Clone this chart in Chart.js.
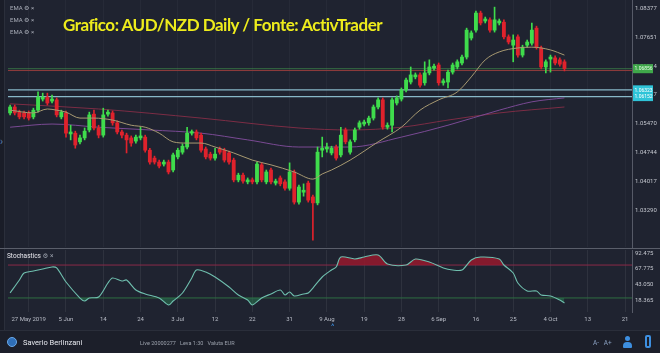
<!DOCTYPE html>
<html><head><meta charset="utf-8">
<script src="https://cdn.jsdelivr.net/npm/chart.js@4.4.1/dist/chart.umd.min.js"></script>
<style>
html,body{margin:0;padding:0;background:#1f2330;width:660px;height:353px;overflow:hidden;font-family:Roboto,"DejaVu Sans",sans-serif;}
#wrap{position:relative;width:660px;height:353px;}
#p1{position:absolute;left:0;top:0;width:660px;height:248px;}
#p2{position:absolute;left:0;top:248px;width:660px;height:82px;}
#gut{position:absolute;left:0;top:0;width:4px;height:330px;background:#1a1d28;border-right:1px solid #2b2f3b;}
#sep{position:absolute;left:0;top:248px;width:660px;height:1px;background:#5a5e6a;}
#title{position:absolute;left:63px;top:14px;color:#eeec1c;font-family:"Lato",sans-serif;font-weight:bold;font-size:17px;white-space:nowrap;letter-spacing:-0.5px;}
.ema{position:absolute;left:10px;font-size:6px;color:#a9adb8;white-space:nowrap;}
#stl{position:absolute;left:7px;top:252px;font-size:6.5px;color:#e8e8ee;white-space:nowrap;}
#foot{position:absolute;left:0;top:330px;width:660px;height:23px;background:#1c1f2a;border-top:1px solid #2a2e3a;}
#name{position:absolute;left:23px;top:7px;font-size:7.5px;color:#e6e8ee;}
#acct{position:absolute;left:140px;top:9px;font-size:5.5px;color:#9aa0ab;white-space:nowrap;}
#av{position:absolute;left:7px;top:6px;width:10px;height:10px;border-radius:50%;background:#2f6fb8;border:1px solid #6aa8e8;box-sizing:border-box;}
#fa{position:absolute;left:593px;top:8px;font-size:6.5px;color:#8aa0c0;white-space:nowrap;}
#pi{position:absolute;left:623px;top:5px;width:9px;height:12px;}
#pi .h{position:absolute;left:2px;top:0;width:5px;height:5px;border-radius:50%;background:#3d8fe0;}
#pi .b{position:absolute;left:0;top:6px;width:9px;height:6px;border-radius:4px 4px 1px 1px;background:#3d8fe0;}
#door{position:absolute;left:645px;top:4px;width:6px;height:13px;border:2px solid #3d8fe0;border-radius:2px;box-sizing:border-box;}
#car{position:absolute;left:331px;top:322px;font-size:8px;color:#3d8fe0;}
#arr{position:absolute;left:0px;top:136px;font-size:10px;color:#5a7fb8;}
</style></head>
<body><div id="wrap">
<div id="p1"><canvas id="c1"></canvas></div>
<div id="p2"><canvas id="c2"></canvas></div>
<div id="gut"></div>
<div id="sep"></div>
<div id="title">Grafico: AUD/NZD Daily / Fonte: ActivTrader</div>
<div class="ema" style="top:4px">EMA ⚙ ×</div>
<div class="ema" style="top:16px">EMA ⚙ ×</div>
<div class="ema" style="top:28px">EMA ⚙ ×</div>
<div id="stl">Stochastics <span style="color:#9aa0ab">⚙ ×</span></div>
<div id="arr">›</div>
<div id="car">^</div>
<div id="foot">
 <div id="av"></div>
 <div id="name">Saverio Berlinzani</div>
 <div id="acct">Live 20000277&nbsp;&nbsp;&nbsp;Leva 1:30&nbsp;&nbsp;&nbsp;Valuta EUR</div>
 <div id="fa">A-&nbsp;&nbsp;&nbsp;A+</div>
 <div id="pi"><div class="h"></div><div class="b"></div></div>
 <div id="door"></div>
</div>
</div>
<script>
// ---- data (daily candles, bar index 0 = 21 May 2019) ----
const xLabels = ["27 May 2019","5 Jun","14","24","3 Jul","12","22","31","9 Aug","19","28","6 Sep","16","25","4 Oct","13","21"];
const xLabelIdx = [4,12,20,28,36,44,52,60,68,76,84,92,100,108,116,124,132];
const priceTicks = [1.03290,1.04017,1.04744,1.05470,1.06197,1.06924,1.07651,1.08377];
const stochTicks = [18.365,43.050,67.775,92.475];

const opens = [1.0574,1.0589,1.0576,1.0574,1.0574,1.0564,1.0581,1.0609,1.0614,1.0604,
1.0607,1.0564,1.0574,1.0521,1.0523,1.0501,1.0511,1.0531,1.0571,1.0536,
1.0518,1.0571,1.0574,1.0549,1.0526,1.0518,1.0511,1.0503,1.0511,1.0513,
1.0480,1.0460,1.0450,1.0445,1.0450,1.0430,1.0463,1.0475,1.0488,1.0523,
1.0526,1.0518,1.0483,1.0470,1.0460,1.0483,1.0480,1.0473,1.0455,1.0405,
1.0417,1.0400,1.0405,1.0400,1.0443,1.0400,1.0430,1.0397,1.0410,1.0400,
1.0384,1.0425,1.0349,1.0374,1.0397,1.0362,1.0347,1.0480,1.0483,1.0473,
1.0488,1.0468,1.0531,1.0475,1.0506,1.0538,1.0546,1.0549,1.0561,1.0589,
1.0607,1.0538,1.0543,1.0599,1.0609,1.0632,1.0652,1.0665,1.0670,1.0650,
1.0675,1.0687,1.0695,1.0650,1.0652,1.0677,1.0690,1.0700,1.0715,1.0763,
1.0783,1.0826,1.0806,1.0809,1.0783,1.0801,1.0803,1.0766,1.0745,1.0766,
1.0720,1.0745,1.0750,1.0788,1.0738,1.0690,1.0710,1.0713,1.0708,1.0703];
const highs = [1.0594,1.0594,1.0581,1.0579,1.0579,1.0586,1.0627,1.0624,1.0624,1.0619,
1.0612,1.0581,1.0579,1.0543,1.0528,1.0518,1.0536,1.0576,1.0581,1.0543,
1.0586,1.0581,1.0579,1.0554,1.0531,1.0523,1.0516,1.0518,1.0538,1.0518,
1.0485,1.0465,1.0455,1.0455,1.0455,1.0473,1.0485,1.0496,1.0538,1.0531,
1.0531,1.0523,1.0488,1.0475,1.0485,1.0488,1.0485,1.0478,1.0460,1.0422,
1.0422,1.0410,1.0410,1.0450,1.0448,1.0430,1.0435,1.0407,1.0415,1.0405,
1.0448,1.0430,1.0392,1.0395,1.0402,1.0367,1.0488,1.0513,1.0498,1.0490,
1.0493,1.0538,1.0536,1.0506,1.0536,1.0554,1.0556,1.0566,1.0594,1.0612,
1.0612,1.0549,1.0612,1.0617,1.0637,1.0662,1.0690,1.0675,1.0675,1.0703,
1.0708,1.0697,1.0700,1.0660,1.0682,1.0700,1.0708,1.0720,1.0788,1.0781,
1.0831,1.0831,1.0816,1.0814,1.0841,1.0811,1.0809,1.0771,1.0771,1.0771,
1.0745,1.0758,1.0801,1.0793,1.0743,1.0708,1.0720,1.0718,1.0713,1.0708];
const lows = [1.0569,1.0569,1.0559,1.0559,1.0556,1.0559,1.0576,1.0604,1.0594,1.0599,
1.0564,1.0559,1.0513,1.0506,1.0485,1.0496,1.0506,1.0526,1.0531,1.0511,
1.0513,1.0566,1.0543,1.0521,1.0511,1.0473,1.0490,1.0498,1.0506,1.0475,
1.0445,1.0445,1.0435,1.0440,1.0420,1.0425,1.0458,1.0470,1.0483,1.0518,
1.0506,1.0475,1.0458,1.0455,1.0455,1.0470,1.0450,1.0445,1.0400,1.0400,
1.0397,1.0395,1.0395,1.0395,1.0400,1.0395,1.0395,1.0392,1.0390,1.0379,
1.0379,1.0344,1.0344,1.0364,1.0349,1.0253,1.0342,1.0463,1.0475,1.0468,
1.0455,1.0463,1.0496,1.0470,1.0501,1.0533,1.0541,1.0543,1.0556,1.0584,
1.0533,1.0533,1.0526,1.0594,1.0604,1.0627,1.0647,1.0660,1.0639,1.0644,
1.0670,1.0682,1.0644,1.0644,1.0637,1.0672,1.0685,1.0695,1.0710,1.0758,
1.0778,1.0796,1.0801,1.0778,1.0778,1.0796,1.0761,1.0748,1.0703,1.0715,
1.0715,1.0740,1.0745,1.0735,1.0685,1.0675,1.0677,1.0695,1.0692,1.0680];
const closes = [1.0589,1.0574,1.0564,1.0564,1.0561,1.0581,1.0614,1.0614,1.0599,1.0609,
1.0569,1.0576,1.0523,1.0526,1.0493,1.0511,1.0528,1.0569,1.0536,1.0518,
1.0569,1.0576,1.0549,1.0526,1.0518,1.0506,1.0498,1.0513,1.0516,1.0480,
1.0450,1.0450,1.0440,1.0450,1.0425,1.0468,1.0480,1.0490,1.0523,1.0526,
1.0511,1.0480,1.0463,1.0460,1.0470,1.0475,1.0455,1.0450,1.0405,1.0417,
1.0402,1.0405,1.0400,1.0445,1.0405,1.0425,1.0400,1.0402,1.0395,1.0384,
1.0425,1.0349,1.0387,1.0379,1.0354,1.0347,1.0475,1.0485,1.0488,1.0485,
1.0460,1.0518,1.0501,1.0501,1.0531,1.0549,1.0551,1.0561,1.0589,1.0607,
1.0538,1.0543,1.0607,1.0612,1.0632,1.0657,1.0670,1.0670,1.0644,1.0675,
1.0690,1.0692,1.0650,1.0655,1.0677,1.0695,1.0703,1.0715,1.0783,1.0776,
1.0826,1.0801,1.0811,1.0783,1.0809,1.0806,1.0766,1.0753,1.0758,1.0720,
1.0740,1.0753,1.0783,1.0740,1.0690,1.0703,1.0715,1.0700,1.0697,1.0686];

// moving averages (bar index, value)
const emaFastIdx = [0,5,8,10,12,15,18,22,26,29,32,35,38,41,44,48,52,56,61,65,67,69,73,79,84,88,92,96,99,102,105,109,112,116,119];
const emaFastVal = [1.0581,1.0574,1.0584,1.0581,1.0576,1.0561,1.0561,1.0556,1.0543,1.0538,1.0523,1.0501,1.0498,1.0498,1.0488,1.0473,1.0455,1.0443,1.0425,1.0407,1.0420,1.0430,1.0455,1.0501,1.0538,1.0581,1.0607,1.0627,1.0665,1.0708,1.0728,1.0738,1.0740,1.0733,1.0720];
const emaMidIdx = [0,9,19,30,41,51,62,73,84,94,105,112,119];
const emaMidVal = [1.0538,1.0546,1.0538,1.0531,1.0523,1.0506,1.0488,1.0488,1.0513,1.0543,1.0581,1.0602,1.0612];
const emaSlowIdx = [0,19,41,62,73,84,94,105,119];
const emaSlowVal = [1.0597,1.0584,1.0561,1.0536,1.0531,1.0538,1.0556,1.0574,1.0589];

// horizontal levels
const resistanceLevel = 1.06810;
const lastPrice = 1.06856;
const supportLevels = [1.06323, 1.06152];

// stochastic (bar index, value)
const stochIdx = [0,2,3,5,7,9,10,12,15,16,17,19,21,22,24,25,27,29,32,34,35,37,39,40,42,44,47,49,51,52,54,56,58,59,60,61,63,64,65,67,69,70,71,74,76,79,81,85,87,90,93,95,97,99,101,105,106,108,109,111,113,114,116,118,119];
const stochVal = [30,50.4,61.5,64.6,67.8,71,69.4,47.2,21.9,17.2,21.9,23.5,45.6,53.5,48.8,50.4,34.6,28.3,21.9,10.9,17.2,29.8,53.5,66.2,63,55.1,39.3,26.7,18.8,10.9,21.9,28.3,34.6,26.7,31.4,25.1,28.3,29.8,37.7,55.1,66.2,70.9,86.7,83.6,86.7,89.9,75.7,74.1,83.6,78.8,69.4,66.2,66.2,82,86.7,83.6,74.1,61.5,45.6,33,33,26.7,25.1,18.8,14.1];
const stochUpper = 74;
const stochLower = 22;

// ---- drawing ----
const X_MIN = -0.45, X_MAX = 133.5;
const UP = '#3fdc4c', DOWN = '#e0222c', DOJI = '#cfe8cf';
const candleColors = opens.map((o,i)=> Math.abs(closes[i]-o) < 0.00025 ? DOJI : (closes[i] >= o ? UP : DOWN));
const wickColors = opens.map((o,i)=> closes[i] >= o ? UP : DOWN);
const tickFont = {family:'Roboto', size:6};

const noPad = s => { s.paddingTop = 0; s.paddingBottom = 0; s.paddingLeft = 0; s.paddingRight = 0; };

const tagPlugin = {
  id:'tags',
  afterDraw(chart, args, opts){
    const ctx = chart.ctx, y = chart.scales.y, a = chart.chartArea;
    (opts.items||[]).forEach(t=>{
      const py = y.getPixelForValue(t.value);
      ctx.save();
      ctx.fillStyle = t.bg;
      ctx.fillRect(a.right+1, py-4.5, 20, 9);
      ctx.fillStyle = t.fg;
      ctx.font = '5px Roboto';
      ctx.textBaseline = 'middle';
      ctx.fillText(t.value.toFixed(5), a.right+2.5, py+0.5);
      ctx.restore();
    });
  }
};

const hline = (v, color, w, order) => ({type:'line', data:[{x:X_MIN,y:v},{x:X_MAX,y:v}], borderColor:color, borderWidth:w, pointRadius:0, order});
const lineDs = (idx, val, color, order) => ({type:'line', data: idx.map((x,k)=>({x, y: val[k]})), borderColor:color, borderWidth:1, pointRadius:0, cubicInterpolationMode:'monotone', order});

new Chart(document.getElementById('c1'), {
  type:'bar',
  data:{datasets:[
    hline(resistanceLevel, 'rgba(150,60,60,0.95)', 1, 20),
    hline(lastPrice, 'rgba(70,160,80,0.6)', 1, 19),
    hline(supportLevels[0], '#88b8c8', 1.2, 18),
    hline(supportLevels[1], '#88b8c8', 1.2, 18),
    lineDs(emaSlowIdx, emaSlowVal, '#7c2d45', 12),
    lineDs(emaMidIdx, emaMidVal, '#7a4a94', 11),
    lineDs(emaFastIdx, emaFastVal, '#a89a72', 3),
    {label:'wick', data: opens.map((o,i)=>({x:i, y:[lows[i], highs[i]]})), backgroundColor: wickColors, barThickness:1, grouped:false, order:5},
    {label:'body', data: opens.map((o,i)=>({x:i, y:[o, closes[i]]})), backgroundColor: candleColors, barThickness:3.2, minBarLength:1.5, grouped:false, order:4}
  ]},
  options:{
    animation:false, responsive:true, maintainAspectRatio:false,
    layout:{padding:{left:8, top:0, right:0, bottom:1}},
    plugins:{legend:{display:false}, tooltip:{enabled:false},
      tags:{items:[
        {value:lastPrice, bg:'#3fa84a', fg:'#e8ffe8'},
        {value:supportLevels[0], bg:'#2fc4d8', fg:'#ffffff'},
        {value:supportLevels[1], bg:'#2fc4d8', fg:'#ffffff'}
      ]}},
    scales:{
      x:{type:'linear', min:X_MIN, max:X_MAX, offset:false,
         ticks:{display:false}, grid:{color:'rgba(255,255,255,0.035)', drawTicks:false, offset:false}, border:{display:false},
         afterBuildTicks:s=>{ s.ticks = xLabelIdx.map(v=>({value:v})); },
         afterFit:s=>{ s.height = 0; noPad(s); }},
      y:{position:'right', min:1.02357, max:1.08590,
         ticks:{font:tickFont, color:'#c3c6ce', padding:3, callback:v=>v.toFixed(5)},
         grid:{display:false, drawTicks:false}, border:{display:true, color:'rgba(190,195,205,0.35)'},
         afterBuildTicks:s=>{ s.ticks = priceTicks.map(v=>({value:v})); },
         afterFit:s=>{ s.width = 28; noPad(s); }}
    }
  },
  plugins:[tagPlugin]
});

new Chart(document.getElementById('c2'), {
  type:'line',
  data:{datasets:[
    hline(stochUpper, '#8a2a48', 1, 5),
    hline(stochLower, '#2e6e42', 1, 5),
    {data: stochIdx.map((x,k)=>({x, y:stochVal[k]})), borderColor:'rgba(0,0,0,0)', borderWidth:0, pointRadius:0, tension:0.3,
     fill:{target:{value:stochLower}, above:'rgba(0,0,0,0)', below:'rgba(40,120,80,0.55)'}, order:4},
    {data: stochIdx.map((x,k)=>({x, y:stochVal[k]})), borderColor:'#6fbfae', borderWidth:1.1, pointRadius:0, tension:0.3,
     fill:{target:{value:stochUpper}, above:'rgba(150,25,45,0.85)', below:'rgba(0,0,0,0)'}, order:1}
  ]},
  options:{
    animation:false, responsive:true, maintainAspectRatio:false,
    layout:{padding:{left:8, top:2, right:0, bottom:0}},
    plugins:{legend:{display:false}, tooltip:{enabled:false}},
    scales:{
      x:{type:'linear', min:X_MIN, max:X_MAX,
         ticks:{font:tickFont, color:'#b8bcc6', padding:4, maxRotation:0, autoSkip:false,
                callback:(v)=>{ const k = xLabelIdx.indexOf(v); return k>=0 ? xLabels[k] : ''; }},
         grid:{color:'rgba(255,255,255,0.07)', drawTicks:false}, border:{display:false},
         afterBuildTicks:s=>{ s.ticks = xLabelIdx.map(v=>({value:v})); },
         afterFit:s=>{ s.height = 18; noPad(s); }},
      y:{position:'right', min:-0.2, max:97.8,
         ticks:{font:tickFont, color:'#c3c6ce', padding:3, callback:v=>v.toFixed(3)},
         grid:{display:false, drawTicks:false}, border:{display:true, color:'rgba(190,195,205,0.35)'},
         afterBuildTicks:s=>{ s.ticks = stochTicks.map(v=>({value:v})); },
         afterFit:s=>{ s.width = 28; noPad(s); }}
    }
  }
});
</script>
</body></html>
